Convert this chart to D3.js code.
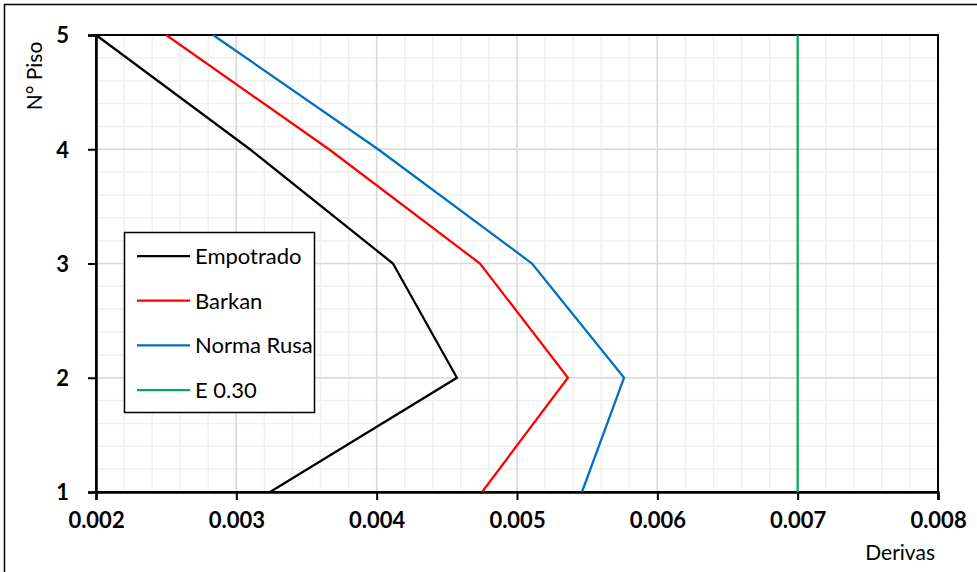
<!DOCTYPE html>
<html>
<head>
<meta charset="utf-8">
<script src="https://cdn.jsdelivr.net/npm/d3@7"></script>
<style>
  body { margin: 0; background: #fff; }
  svg { display: block; font-family: Lato, "Noto Sans", sans-serif; }
</style>
</head>
<body>
<div id="chart"></div>
<script>
// Floors (N° Piso) and drift values
const floors = [1, 2, 3, 4, 5];
const empotrado = [0.00324, 0.004572, 0.004116, 0.003097, 0.002];
const barkan = [0.004751, 0.005363, 0.004736, 0.00366, 0.0025];
const normaRusa = [0.005463, 0.005763, 0.005107, 0.00401, 0.002834];
const e030 = [0.007, 0.007, 0.007, 0.007, 0.007];

const seriesNames = ['Empotrado', 'Barkan', 'Norma Rusa', 'E 0.30'];
const seriesColors = ['#000000', '#ff0000', '#0070c0', '#00b050'];
const seriesValues = [empotrado, barkan, normaRusa, e030];

const xTicks = [0.002, 0.003, 0.004, 0.005, 0.006, 0.007, 0.008];
const yTicks = [1, 2, 3, 4, 5];

const W = 977, H = 572;
const plot = { left: 96, top: 35, right: 938, bottom: 492 };

const svg = d3.select('#chart').append('svg')
  .attr('width', W)
  .attr('height', H);

// outer chart frame (runs off the right and bottom edge)
svg.append('rect')
  .attr('x', 4.5).attr('y', 4.5)
  .attr('width', W + 20).attr('height', H + 20)
  .attr('fill', '#fff')
  .attr('stroke', '#000')
  .attr('stroke-width', 1.5);

const x = d3.scaleLinear().domain([0.002, 0.008]).range([plot.left, plot.right]);
const y = d3.scaleLinear().domain([1, 5]).range([plot.bottom, plot.top]);

// minor grid
const xMinor = d3.range(0, 31).map(i => 0.002 + i * 0.0002);
const yMinor = d3.range(0, 21).map(i => 1 + i * 0.2);
svg.append('g').selectAll('line').data(xMinor).join('line')
  .attr('x1', d => x(d)).attr('x2', d => x(d))
  .attr('y1', plot.top).attr('y2', plot.bottom)
  .attr('stroke', '#f0f0f0').attr('stroke-width', 1.5);
svg.append('g').selectAll('line').data(yMinor).join('line')
  .attr('x1', plot.left).attr('x2', plot.right)
  .attr('y1', d => y(d)).attr('y2', d => y(d))
  .attr('stroke', '#f0f0f0').attr('stroke-width', 1.5);

// major grid
svg.append('g').selectAll('line').data(xTicks).join('line')
  .attr('x1', d => x(d)).attr('x2', d => x(d))
  .attr('y1', plot.top).attr('y2', plot.bottom)
  .attr('stroke', '#d9d9d9').attr('stroke-width', 1.5);
svg.append('g').selectAll('line').data(yTicks).join('line')
  .attr('x1', plot.left).attr('x2', plot.right)
  .attr('y1', d => y(d)).attr('y2', d => y(d))
  .attr('stroke', '#d9d9d9').attr('stroke-width', 1.5);

// plot area border
svg.append('rect')
  .attr('x', plot.left).attr('y', plot.top)
  .attr('width', plot.right - plot.left).attr('height', plot.bottom - plot.top)
  .attr('fill', 'none')
  .attr('stroke', '#000')
  .attr('stroke-width', 2);

// axes
const xAxis = svg.append('g')
  .attr('transform', `translate(0,${plot.bottom})`)
  .call(d3.axisBottom(x).tickValues(xTicks).tickFormat(d3.format('.3f')).tickSize(8).tickPadding(12));
const yAxis = svg.append('g')
  .attr('transform', `translate(${plot.left},0)`)
  .call(d3.axisLeft(y).tickValues(yTicks).tickFormat(d3.format('d')).tickSize(8).tickPadding(19));

[xAxis, yAxis].forEach(a => {
  a.select('.domain').attr('stroke', '#000').attr('stroke-width', 2.5);
  a.selectAll('.tick line').attr('stroke', '#000').attr('stroke-width', 2);
  a.selectAll('.tick text')
    .attr('fill', '#000')
    .attr('font-size', '22px')
    .attr('font-weight', '700')
    .attr('font-family', 'Lato, "Noto Sans", sans-serif');
});
yAxis.selectAll('.tick text').attr('dy', '0.36em');

// series lines
const line = d3.line()
  .x(d => x(d.v))
  .y(d => y(d.f));

seriesValues.forEach((vals, i) => {
  const pts = floors.map((f, k) => ({ f, v: vals[k] }));
  svg.append('path')
    .datum(pts)
    .attr('d', line)
    .attr('fill', 'none')
    .attr('stroke', seriesColors[i])
    .attr('stroke-width', 2.25)
    .attr('stroke-linejoin', 'miter');
});

// axis titles
svg.append('text')
  .attr('transform', 'translate(42,76) rotate(-90)')
  .attr('text-anchor', 'middle')
  .attr('font-size', '21px')
  .attr('fill', '#000')
  .text('N° Piso');

svg.append('text')
  .attr('x', 935)
  .attr('y', 560)
  .attr('text-anchor', 'end')
  .attr('font-size', '21px')
  .attr('fill', '#000')
  .text('Derivas');

// legend
const legend = svg.append('g');
legend.append('rect')
  .attr('x', 124.5).attr('y', 232.5)
  .attr('width', 190).attr('height', 180)
  .attr('fill', '#fff')
  .attr('stroke', '#000')
  .attr('stroke-width', 1.5);

seriesNames.forEach((name, i) => {
  const ly = 256 + i * 44.7;
  legend.append('line')
    .attr('x1', 137).attr('x2', 190)
    .attr('y1', ly).attr('y2', ly)
    .attr('stroke', seriesColors[i])
    .attr('stroke-width', 2.25);
  legend.append('text')
    .attr('x', 195)
    .attr('y', ly)
    .attr('dy', '0.36em')
    .attr('font-size', '22px')
    .attr('fill', '#000')
    .text(name);
});
</script>
</body>
</html>
